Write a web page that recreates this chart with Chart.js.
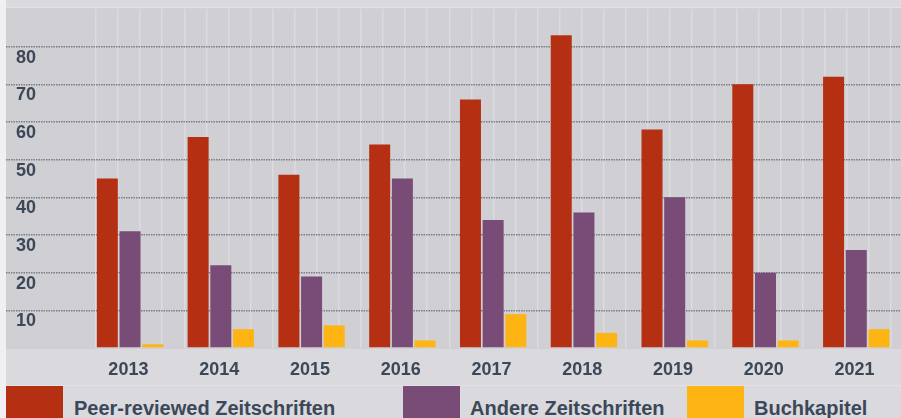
<!DOCTYPE html>
<html>
<head>
<meta charset="utf-8">
<script src="https://cdn.jsdelivr.net/npm/chart.js@4/dist/chart.umd.min.js"></script>
<style>
html, body { margin: 0; padding: 0; overflow: hidden; background: #f0f0f2; width: 901px; height: 418px; }
#wrap { position: relative; width: 901px; height: 418px; overflow: hidden; }
.band { position: absolute; left: 6px; width: 895px; }
#topband { top: 0; height: 7px; background: #d9d9de; }
#topline { top: 7px; height: 1px; background: #e2e2e6; }
#plotband { top: 8px; height: 341px; background: #cfcfd4; }
#axisband { top: 349px; height: 36px; background: #d9d9de; }
#legline { top: 385px; height: 1px; background: #e2e2e6; }
#legband { top: 386px; height: 32px; background: #d9d9de; }
#c { position: absolute; left: 6px; top: 0; }
.lbox { position: absolute; top: 386px; width: 57px; height: 32px; }
.ltext { position: absolute; top: 397px; line-height: 20px; font: bold 20px "Liberation Sans", Arial, sans-serif; color: #3c4858; white-space: nowrap; }
</style>
</head>
<body>
<div id="wrap">
  <div class="band" id="topband"></div>
  <div class="band" id="topline"></div>
  <div class="band" id="plotband"></div>
  <div class="band" id="axisband"></div>
  <div class="band" id="legline"></div>
  <div class="band" id="legband"></div>
  <canvas id="c" width="907" height="385" style="width:907px;height:385px"></canvas>
  <div id="legend"></div>
</div>
<script>
const years = ['2013', '2014', '2015', '2016', '2017', '2018', '2019', '2020', '2021'];
const peerReviewed = [45, 56, 46, 54, 66, 83, 58, 70, 72];
const otherJournals = [31, 22, 19, 45, 34, 36, 40, 20, 26];
const bookChapters = [1, 5, 6, 2, 9, 4, 2, 2, 5];
const seriesNames = ['Peer-reviewed Zeitschriften', 'Andere Zeitschriften', 'Buchkapitel'];
const yMax = 90;
const yStep = 10;

// empty fourth slot per year gives the gap after each group
const spacer = years.map(() => null);

const textColor = '#3c4858';
const gridColor = '#7b7e86';
const labelFont = { family: 'Liberation Sans', weight: 'bold', size: 18 };

const chart = new Chart(document.getElementById('c'), {
  type: 'bar',
  data: {
    labels: years,
    datasets: [
      { label: seriesNames[0], data: peerReviewed, backgroundColor: '#b52f12' },
      { label: seriesNames[1], data: otherJournals, backgroundColor: '#784c76' },
      { label: seriesNames[2], data: bookChapters, backgroundColor: '#feb514' },
      { label: '', data: spacer, backgroundColor: 'rgba(0,0,0,0)' }
    ]
  },
  options: {
    responsive: false,
    animation: false,
    devicePixelRatio: 1,
    datasets: { bar: { categoryPercentage: 1, barPercentage: 0.925, borderWidth: 0 } },
    layout: { padding: { left: 10, top: 9, right: 0, bottom: 0 } },
    plugins: { legend: { display: false }, tooltip: { enabled: false } },
    scales: {
      x: {
        grid: { display: false },
        border: { display: false },
        ticks: { labelOffset: -13, padding: 3, color: textColor, font: labelFont, autoSkip: false, maxRotation: 0 },
        afterFit: s => { s.height = 37; s.paddingLeft = 0; s.paddingRight = 0; }
      },
      slots: {
        type: 'linear',
        position: 'top',
        min: 0,
        max: years.length * 4,
        ticks: { display: false, stepSize: 1, maxTicksLimit: 100 },
        grid: { color: '#dcdce0', lineWidth: 1.5, drawTicks: false, z: -2 },
        border: { display: false },
        afterFit: s => { s.height = 0; s.paddingLeft = 0; s.paddingRight = 0; }
      },
      y: {
        min: 0,
        max: yMax,
        ticks: {
          stepSize: yStep,
          labelOffset: 11,
          crossAlign: 'far',
          color: textColor,
          font: labelFont,
          callback: v => (v === 0 || v === yMax) ? '' : v
        },
        grid: {
          color: c => (c.tick && (c.tick.value === 0 || c.tick.value === yMax)) ? 'rgba(0,0,0,0)' : gridColor,
          tickColor: c => (c.tick && (c.tick.value === 0 || c.tick.value === yMax)) ? 'rgba(0,0,0,0)' : gridColor,
          lineWidth: 1.5,
          tickWidth: 1.5,
          tickLength: 90,
          tickBorderDash: [1.5, 1]
        },
        border: { display: false, dash: [1.5, 1] },
        afterFit: s => { s.width = 80; s.paddingTop = 0; s.paddingBottom = 0; }
      }
    }
  }
});

// legend built from the chart's datasets
const legendPos = [[6, 74], [403, 470], [687, 754]];
const legendEl = document.getElementById('legend');
chart.data.datasets.filter(d => d.label).forEach((ds, i) => {
  const box = document.createElement('div');
  box.className = 'lbox';
  box.style.left = legendPos[i][0] + 'px';
  box.style.background = ds.backgroundColor;
  const txt = document.createElement('div');
  txt.className = 'ltext';
  txt.style.left = legendPos[i][1] + 'px';
  txt.textContent = ds.label;
  legendEl.appendChild(box);
  legendEl.appendChild(txt);
});
</script>
</body>
</html>
